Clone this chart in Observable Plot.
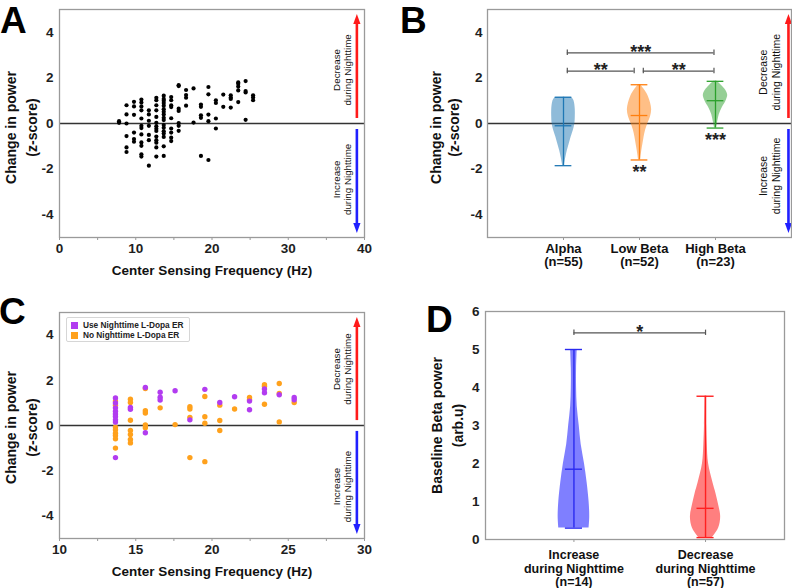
<!DOCTYPE html>
<html><head><meta charset="utf-8">
<script src="https://cdn.jsdelivr.net/npm/d3@7"></script>
<script src="https://cdn.jsdelivr.net/npm/@observablehq/plot@0.6"></script>
<style>
html,body{margin:0;padding:0;background:#fff}
#root{position:relative;width:792px;height:588px;overflow:hidden;font-family:"Liberation Sans",Arial,sans-serif;color:#1e1e1e;background:#fff}
.panel{position:absolute}
.letter{position:absolute;font-weight:bold;font-size:37px;line-height:37px;color:#000}
.legend{position:absolute;left:66px;top:317px;width:124px;height:25px;box-sizing:border-box;border:1px solid #d6d6d6;border-radius:2px;background:#fff;font-weight:bold;font-size:8.3px;color:#222}
.legend .item{position:absolute;left:4px;height:10px;line-height:10px;white-space:nowrap}
.legend .sw{display:inline-block;width:7px;height:7px;margin-right:5px;vertical-align:-1px}
</style></head>
<body><div id="root"></div>
<script>
const FONT = '"Liberation Sans", Arial, sans-serif';
const INK = "#1e1e1e";

// ---------- Panels A & C: change in power vs centre sensing frequency ----------
const alphaFreqs = [7.81, 8.79, 9.77, 10.74, 11.72, 12.70];
const alphaZ = [
  [0.10, 0.03],
  [0.80, 0.40, 0.00, -0.55, -1.05, -1.25],
  [0.95, 0.75, 0.38, -0.40, -0.68, -0.80],
  [1.05, 0.92, 0.75, 0.58, 0.22, -0.10, -0.20, -0.48, -0.83, -0.98, -1.35, -1.45],
  [0.58, 0.40, 0.12, -0.10, -0.50, -0.73, -1.85],
  [1.13, 1.02, 0.80, 0.58, 0.29, 0.03, -0.12, -0.23, -0.33, -0.57, -0.73, -0.84, -1.05, -1.45]
];
const betaFreqs = [13.67, 14.65, 15.63, 16.60, 17.58, 18.55, 19.53, 20.51, 21.48, 22.46, 23.44, 24.41, 25.39];
const betaZ = [
  [1.22, 1.08, 1.00, 0.90, 0.78, 0.63, 0.51, 0.40, 0.25, 0.15, -0.07, -0.19, -0.34, -0.44, -0.59, -1.00, -1.42],
  [1.16, 1.02, 0.80, 0.72, 0.23, -0.22, -0.40, -0.62, -0.77],
  [1.68, 1.64, 0.65, 0.55, 0.02, -0.10, -0.32],
  [1.47, 1.25, 1.13, 0.78],
  [1.54, 0.04],
  [0.83, 0.73, 0.36, 0.25, -1.42],
  [1.60, 1.28, 0.39, 0.10, -1.60],
  [1.02, 0.90, 0.22, -0.22],
  [1.27, 0.73],
  [1.24, 1.14, 1.08, 0.70],
  [1.80, 1.74, 1.62, 1.45, 0.94],
  [1.86, 1.42, 1.36, 0.16],
  [1.24, 1.14, 1.02]
];
// U = uses nighttime L-Dopa ER, N = no nighttime L-Dopa ER (one letter per point above)
const betaGroup = [
  "UNUNUUUUUUNNNNNNU", "NNUUNNNNN", "UNNNNNU", "UUUN", "UN", "NNNUN", "UNNNN",
  "UNNN", "UN", "NNUU", "NNUUN", "NNUN", "UUN"
];
const groupKeys = ["U", "N"];
const groupNames = ["Use Nighttime L-Dopa ER", "No Nighttime L-Dopa ER"];
const groupColors = ["#b23cf0", "#ffa11c"];

// ---------- Panel B: violin summary per band ----------
const bandNames = ["Alpha", "Low Beta", "High Beta"];
const bandN = [55, 52, 23];
const bandColors = ["#1f77b4", "#ff7f0e", "#2ca02c"];
const bandMin = [-1.85, -1.60, -0.20];
const bandMax = [1.15, 1.70, 1.85];
const bandMedian = [-0.10, 0.35, 1.00];
const bandProfileY = [
  [1.15, 1.05, 0.90, 0.60, 0.30, 0.00, -0.30, -0.60, -0.90, -1.20, -1.50, -1.85],
  [1.70, 1.50, 1.20, 0.90, 0.60, 0.30, 0.00, -0.30, -0.60, -0.90, -1.20, -1.60],
  [1.85, 1.70, 1.50, 1.25, 1.00, 0.70, 0.40, 0.10, -0.20]
];
const bandProfileW = [
  [0.10, 0.13, 0.145, 0.155, 0.155, 0.15, 0.13, 0.10, 0.075, 0.05, 0.03, 0.01],
  [0.015, 0.06, 0.115, 0.145, 0.16, 0.145, 0.11, 0.08, 0.06, 0.045, 0.03, 0.012],
  [0.02, 0.07, 0.125, 0.16, 0.14, 0.09, 0.05, 0.03, 0.012]
];
const bandStars = ["", "**", "***"];
const bandStarY = [null, -1.92, -0.54];
const pairX1 = [1.05, 1.05, 2.05];
const pairX2 = [2.98, 1.93, 2.98];
const pairY = [3.10, 2.30, 2.30];
const pairStars = ["***", "**", "**"];

// ---------- Panel D: baseline beta power ----------
const dNames = ["Increase\nduring Nighttime", "Decrease\nduring Nighttime"];
const dN = [14, 57];
const dColors = ["#2a2af0", "#ff2020"];
const dFills = ["#0000ff", "#ff0000"];
const dMin = [0.30, 0.05];
const dMax = [5.00, 3.77];
const dMedian = [1.85, 0.82];
const dProfileY = [
  [5.00, 4.50, 4.00, 3.50, 3.00, 2.50, 2.00, 1.50, 1.00, 0.60, 0.30],
  [3.77, 3.00, 2.50, 2.00, 1.50, 1.20, 0.90, 0.60, 0.30, 0.10, 0.05]
];
const dProfileW = [
  [0.025, 0.02, 0.02, 0.025, 0.04, 0.055, 0.08, 0.10, 0.115, 0.12, 0.115],
  [0.005, 0.008, 0.013, 0.023, 0.056, 0.08, 0.10, 0.115, 0.10, 0.063, 0.05]
];
const dStars = ["*"];
const dPairY = [5.44];

const arrowTexts = ["Decrease\nduring Nighttime", "Increase\nduring Nighttime"];

// ---------- helpers ----------
const rowsAlpha = alphaFreqs.flatMap((f, i) => alphaZ[i].map(z => ({f, z})));
const rowsBeta = betaFreqs.flatMap((f, i) => betaZ[i].map((z, j) => ({f, z, g: betaGroup[i][j]})));
const rowsA = rowsAlpha.concat(rowsBeta);

const ST = {fontFamily: FONT, fontSize: "13px", fontWeight: "bold", color: INK, background: "transparent", overflow: "visible"};
const headUp = {draw(ctx) { ctx.moveTo(0, -10); ctx.lineTo(3.6, 0); ctx.lineTo(-3.6, 0); ctx.closePath(); }};
const headDown = {draw(ctx) { ctx.moveTo(0, 10); ctx.lineTo(3.6, 0); ctx.lineTo(-3.6, 0); ctx.closePath(); }};

function nightArrows(xa, xt, yUp, yDown, fs) {
  const red = "#ff1a1a", blue = "#2020ff";
  return [
    Plot.link([0], {x1: xa, x2: xa, y1: 0.24, y2: 4.4, stroke: red, strokeWidth: 2.6}),
    Plot.dot([0], {x: xa, y: 4.36, symbol: headUp, fill: red, stroke: "none"}),
    Plot.link([0], {x1: xa, x2: xa, y1: -0.24, y2: -4.4, stroke: blue, strokeWidth: 2.6}),
    Plot.dot([0], {x: xa, y: -4.36, symbol: headDown, fill: blue, stroke: "none"}),
    Plot.text([arrowTexts[0]], {text: d => d, x: xt, y: yUp, rotate: -90, fontSize: fs, fontWeight: "normal", lineHeight: 1.2, fill: "#111"}),
    Plot.text([arrowTexts[1]], {text: d => d, x: xt, y: yDown, rotate: -90, fontSize: fs, fontWeight: "normal", lineHeight: 1.2, fill: "#111"})
  ];
}
function yLabel(txt, dx, dy, lh) {
  return Plot.text([txt], {text: d => d, frameAnchor: "left", textAnchor: "middle", lineAnchor: "middle", dx, dy, rotate: -90, fontSize: 14, fontWeight: "bold", lineHeight: lh, fill: "#111"});
}
function xLabel(txt, dy) {
  return Plot.text([txt], {text: d => d, frameAnchor: "bottom", textAnchor: "middle", lineAnchor: "middle", dy, fontSize: 13.5, fontWeight: "bold", fill: "#111"});
}
function violinRows(pos, ys, ws) { return ys.map((y, i) => ({y, x1: pos - ws[i], x2: pos + ws[i]})); }

const root = document.getElementById("root");
function place(node, left, top) { node.classList.add("panel"); node.style.left = left + "px"; node.style.top = top + "px"; root.appendChild(node); }

// ---------- Panel A ----------
const plotA = Plot.plot({
  width: 396, height: 290, marginLeft: 59, marginRight: 32, marginTop: 9, marginBottom: 53,
  style: ST,
  x: {domain: [0, 40]}, y: {domain: [-5, 5]},
  marks: [
    Plot.axisX({ticks: d3.range(0, 41, 5), tickSize: 3, tickPadding: 3, tickFormat: d => d % 10 === 0 ? String(d) : "", label: null, stroke: "#999", fontSize: 13.5, fontWeight: "bold"}),
    Plot.axisY({ticks: [-4, -2, 0, 2, 4], tickSize: 0, tickPadding: 6, tickFormat: d => String(d), label: null, fontSize: 13.5, fontWeight: "bold"}),
    Plot.ruleY([0], {stroke: "#333", strokeWidth: 1.6}),
    Plot.dot(rowsA, {x: "f", y: "z", r: 2.1, fill: "#000", stroke: "none"}),
    ...nightArrows(39.0, 37.0, 2.35, -2.45, 9.8),
    Plot.frame({stroke: "#9a9a9a", strokeWidth: 1.3}),
    yLabel("Change in power\n(z-score)", -40, 4, 1.5),
    xLabel("Center Sensing Frequency (Hz)", 33)
  ]
});
place(plotA, 0, 0);

// ---------- Panel B ----------
const bandPos = bandNames.map((_, i) => i + 1);
const marksB = [
  Plot.axisX({ticks: bandPos, tickSize: 3, tickFormat: () => "", label: null, stroke: "#999"}),
  Plot.axisY({ticks: [-4, -2, 0, 2, 4], tickSize: 0, tickPadding: 5, tickFormat: d => String(d), label: null, fontSize: 13.5, fontWeight: "bold"}),
  Plot.ruleY([0], {stroke: "#333", strokeWidth: 1.6})
];
bandNames.forEach((name, i) => {
  const p = bandPos[i], c = bandColors[i], cap = 0.11;
  marksB.push(
    Plot.areaX(violinRows(p, bandProfileY[i], bandProfileW[i]), {y: "y", x1: "x1", x2: "x2", fill: c, fillOpacity: 0.5, curve: "catmull-rom"}),
    Plot.ruleX([p], {y1: bandMin[i], y2: bandMax[i], stroke: c, strokeWidth: 1.3}),
    Plot.ruleY([bandMin[i], bandMax[i], bandMedian[i]], {x1: p - cap, x2: p + cap, stroke: c, strokeWidth: 1.3})
  );
  if (bandStars[i]) marksB.push(Plot.text([bandStars[i]], {text: d => d, x: p, y: bandStarY[i], dy: 4.5, fontSize: 18, fontWeight: "bold", fill: "#222"}));
});
marksB.push(
  Plot.ruleY(pairY, {x1: (d, i) => pairX1[i], x2: (d, i) => pairX2[i], stroke: "#555", strokeWidth: 1.2}),
  Plot.ruleX(pairX1, {y1: (d, i) => pairY[i] - 0.12, y2: (d, i) => pairY[i] + 0.12, stroke: "#555", strokeWidth: 1.2}),
  Plot.ruleX(pairX2, {y1: (d, i) => pairY[i] - 0.12, y2: (d, i) => pairY[i] + 0.12, stroke: "#555", strokeWidth: 1.2}),
  Plot.text(pairStars, {text: d => d, x: (d, i) => (pairX1[i] + pairX2[i]) / 2, y: (d, i) => pairY[i], dy: -0.5, fontSize: 18, fontWeight: "bold", fill: "#222"}),
  Plot.text(bandNames, {text: (d, i) => `${d}\n(n=${bandN[i]})`, x: (d, i) => bandPos[i], frameAnchor: "bottom", textAnchor: "middle", lineAnchor: "middle", dy: 17.5, lineHeight: 1.05, fontSize: 13, fontWeight: "bold", fill: "#111"}),
  ...nightArrows(3.96, 3.71, 2.25, -2.3, 10.5),
  Plot.frame({stroke: "#9a9a9a", strokeWidth: 1.3}),
  yLabel("Change in power\n(z-score)", -43.5, 4, 1.3)
);
const plotB = Plot.plot({
  width: 396, height: 290, marginLeft: 91, marginRight: 1, marginTop: 9, marginBottom: 53,
  style: ST,
  x: {domain: [0, 4]}, y: {domain: [-5, 5]},
  marks: marksB
});
place(plotB, 396, 0);

// ---------- Panel C ----------
const plotC = Plot.plot({
  width: 396, height: 298, marginLeft: 59, marginRight: 32, marginTop: 22, marginBottom: 50,
  style: ST,
  x: {domain: [10, 30]}, y: {domain: [-5, 5]},
  color: {domain: groupKeys, range: groupColors},
  marks: [
    Plot.axisX({ticks: d3.range(10, 30.1, 2.5), tickSize: 3, tickPadding: 3, tickFormat: d => d % 5 === 0 ? String(d) : "", label: null, stroke: "#999", fontSize: 13.5, fontWeight: "bold"}),
    Plot.axisY({ticks: [-4, -2, 0, 2, 4], tickSize: 0, tickPadding: 6, tickFormat: d => String(d), label: null, fontSize: 13.5, fontWeight: "bold"}),
    Plot.ruleY([0], {stroke: "#333", strokeWidth: 1.6}),
    Plot.dot(rowsBeta, {x: "f", y: "z", r: 2.7, fill: "g", stroke: "none", sort: {channel: "fill", order: "ascending"}}),
    ...nightArrows(29.5, 28.5, 2.5, -2.7, 9.8),
    Plot.frame({stroke: "#9a9a9a", strokeWidth: 1.3}),
    yLabel("Change in power\n(z-score)", -40, 2, 1.5),
    xLabel("Center Sensing Frequency (Hz)", 33.4)
  ]
});
place(plotC, 0, 290);

// legend for panel C
const legend = document.createElement("div");
legend.className = "legend";
groupNames.forEach((name, i) => {
  const item = document.createElement("div");
  item.className = "item";
  item.style.top = (1.5 + i * 10) + "px";
  const sw = document.createElement("span");
  sw.className = "sw"; sw.style.background = groupColors[i];
  item.appendChild(sw);
  item.appendChild(document.createTextNode(name));
  legend.appendChild(item);
});
root.appendChild(legend);

// ---------- Panel D ----------
const dPos = dNames.map((_, i) => i + 1);
const marksD = [
  Plot.axisX({ticks: dPos, tickSize: 3, tickFormat: () => "", label: null, stroke: "#999"}),
  Plot.axisY({ticks: d3.range(0, 7), tickSize: 0, tickPadding: 6, tickFormat: d => String(d), label: null, fontSize: 13.5, fontWeight: "bold"})
];
dNames.forEach((name, i) => {
  const p = dPos[i], cap = 0.065;
  marksD.push(
    Plot.areaX(violinRows(p, dProfileY[i], dProfileW[i]), {y: "y", x1: "x1", x2: "x2", fill: dFills[i], fillOpacity: 0.5, curve: "catmull-rom"}),
    Plot.ruleX([p], {y1: dMin[i], y2: dMax[i], stroke: dColors[i], strokeWidth: 1.4}),
    Plot.ruleY([dMin[i], dMax[i], dMedian[i]], {x1: p - cap, x2: p + cap, stroke: dColors[i], strokeWidth: 1.4})
  );
});
marksD.push(
  Plot.ruleY(dPairY, {x1: dPos[0], x2: dPos[1], stroke: "#555", strokeWidth: 1.2}),
  Plot.ruleX(dPos, {y1: dPairY[0] - 0.07, y2: dPairY[0] + 0.07, stroke: "#555", strokeWidth: 1.2}),
  Plot.text(dStars, {text: d => d, x: (dPos[0] + dPos[1]) / 2, y: dPairY[0], dy: -0.5, fontSize: 18, fontWeight: "bold", fill: "#222"}),
  Plot.text(dNames, {text: (d, i) => `${d}\n(n=${dN[i]})`, x: (d, i) => dPos[i], frameAnchor: "bottom", textAnchor: "middle", lineAnchor: "middle", dy: 29, lineHeight: 1.07, fontSize: 12.5, fontWeight: "bold", fill: "#111"}),
  Plot.frame({stroke: "#9a9a9a", strokeWidth: 1.3}),
  yLabel("Baseline Beta power\n(arb.u)", -40, 0, 1.55)
);
const plotD = Plot.plot({
  width: 396, height: 298, marginLeft: 89, marginRight: 8, marginTop: 21, marginBottom: 49,
  style: ST,
  x: {domain: [0.328, 2.6]}, y: {domain: [0, 6]},
  marks: marksD
});
place(plotD, 396, 290);

// ---------- panel letters ----------
[["A", 0, 2], ["B", 400, 2], ["C", -1, 293], ["D", 426, 301]].forEach(([t, l, tp]) => {
  const el = document.createElement("div");
  el.className = "letter"; el.textContent = t;
  el.style.left = l + "px"; el.style.top = tp + "px";
  root.appendChild(el);
});
</script></body></html>
